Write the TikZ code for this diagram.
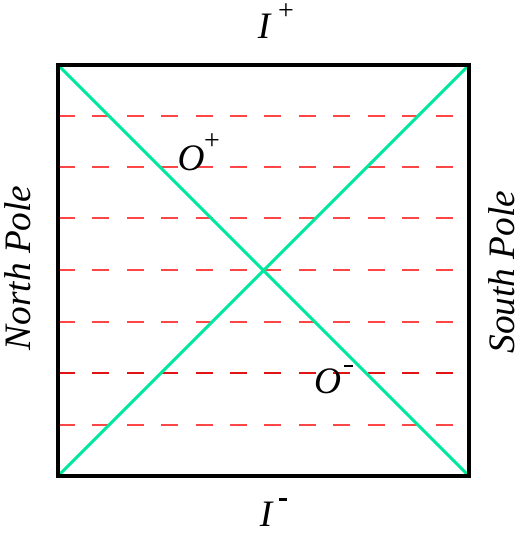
\documentclass[tikz,border=0pt]{standalone}
\usepackage{fontspec}
\setmainfont{Liberation Serif}
\definecolor{diagc}{RGB}{0,232,160}
\definecolor{dashc}{RGB}{255,70,70}
\definecolor{dashdk}{RGB}{225,20,20}
\begin{document}
\begin{tikzpicture}[x=0.75pt,y=-0.75pt,
  lab/.style={font=\fontsize{28}{30}\selectfont\itshape, inner sep=0pt},
  supl/.style={font=\fontsize{21}{21}\selectfont, inner sep=0pt},
  minl/.style={inner sep=0pt, fill=black, minimum width=6.5pt, minimum height=2.2pt},
  hline/.style={dashc, line width=1.2pt, dash pattern=on 12.8pt off 13pt},
  diagl/.style={diagc, line width=2.2pt},
  frame/.style={black, line width=2.3pt}]
\useasboundingbox (0,0) rectangle (526,533);
\coordinate (tl) at (58,65);
\coordinate (tr) at (469,65);
\coordinate (bl) at (58,476);
\coordinate (br) at (469,476);
% dashed horizontal lines
\foreach \yy/\cc in {116/dashc,167/dashc,218/dashc,270/dashc,322/dashc,373/dashdk,425/dashc}{
  \coordinate (l\yy) at (58,\yy);
  \coordinate (r\yy) at (469,\yy);
  \draw[hline, draw=\cc] (l\yy) -- (r\yy);
}
\draw[diagl] (tl) -- (br);
\draw[diagl] (bl) -- (tr);
\draw[frame] (tl) -- (tr) -- (br) -- (bl) -- cycle;
% labels
\node[lab] (ip) at (264,26) {I};
\node[supl] (ipp) at (286,12) {+};
\node[lab] (im) at (266,514) {I};
\node[minl] (imm) at (283,499.5) {};
\node[lab] (op) at (191,158.5) {O};
\node[supl] (opp) at (212,142) {+};
\node[lab] (om) at (327.5,381.5) {O};
\node[minl] (omm) at (348.5,366) {};
\node[lab, rotate=90] (np) at (18,268) {North Pole};
\node[lab, rotate=90] (sp) at (502,272) {South Pole};
\end{tikzpicture}
\end{document}
